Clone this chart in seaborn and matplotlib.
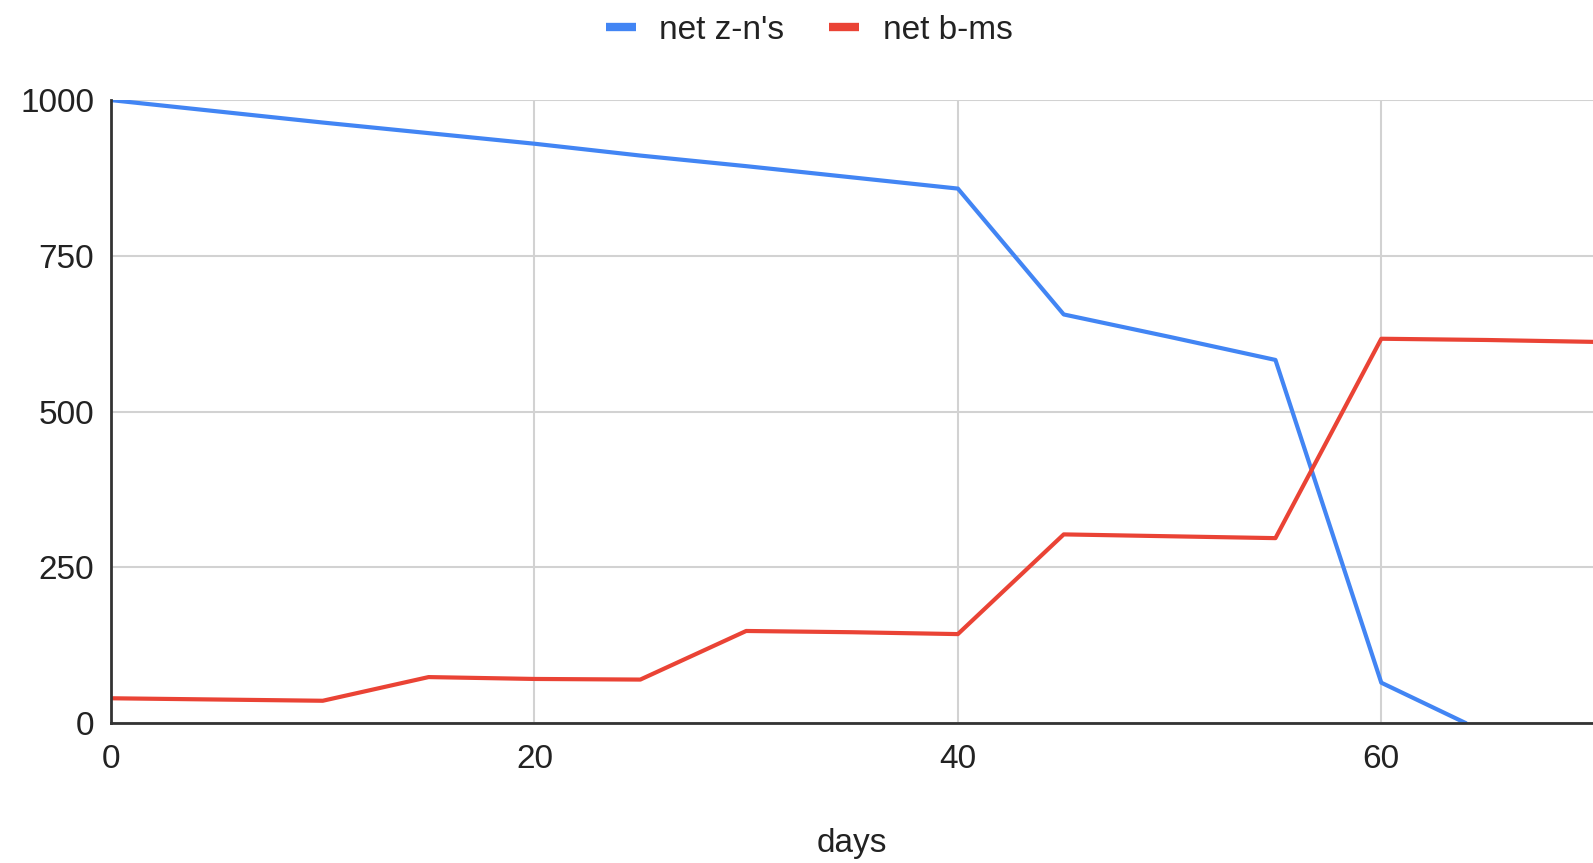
import matplotlib
matplotlib.use("Agg")
import matplotlib.pyplot as plt
from matplotlib.lines import Line2D
import seaborn as sns
import pandas as pd

# series data
days_zn = [0, 5, 10, 15, 20, 25, 30, 35, 40, 45, 50, 55, 60, 64]
net_zn = [1000, 982, 964, 947, 930, 911, 894, 876, 858, 656, 620, 583, 65, 0]

days_bm = [0, 5, 10, 15, 20, 25, 30, 35, 40, 45, 50, 55, 60, 65, 70]
net_bm = [40, 38, 36, 74, 71, 70, 148, 146, 143, 303, 300, 297, 617, 615, 612]

series_names = ["net z-n's", "net b-ms"]
series_colors = ["#4285F4", "#EA4335"]
x_ticks = [0, 20, 40, 60]
y_ticks = [0, 250, 500, 750, 1000]

df = pd.concat([
    pd.DataFrame({"days": days_zn, "value": net_zn, "series": series_names[0]}),
    pd.DataFrame({"days": days_bm, "value": net_bm, "series": series_names[1]}),
], ignore_index=True)

sns.set_theme(style="white")
plt.rcParams["font.family"] = ["Liberation Sans", "DejaVu Sans"]

fig = plt.figure(figsize=(15.93, 8.63), dpi=100)
ax = fig.add_axes([0.0697, 0.162, 1 - 0.0697, 0.884 - 0.162])

sns.lineplot(data=df, x="days", y="value", hue="series",
             palette=dict(zip(series_names, series_colors)),
             linewidth=3, legend=False, ax=ax, zorder=3)

ax.set_xlim(0, 70)
ax.set_ylim(0, 1000)
ax.set_xticks(x_ticks)
ax.set_yticks(y_ticks)
ax.set_xticklabels([str(t) for t in x_ticks])
ax.set_yticklabels([str(t) for t in y_ticks])
ax.grid(True, color="#d2d2d2", linewidth=1.5, zorder=0)
ax.set_axisbelow(True)

for s in ["top", "right"]:
    ax.spines[s].set_visible(False)
for s in ["left", "bottom"]:
    ax.spines[s].set_color("#333333")
    ax.spines[s].set_linewidth(2)
    ax.spines[s].set_zorder(4)

ax.tick_params(axis="both", length=0, labelsize=24, colors="#222222")
ax.tick_params(axis="y", pad=12)
ax.tick_params(axis="x", pad=15)

ax.set_xlabel("days", fontsize=24, color="#222222", labelpad=38)
ax.set_ylabel("")

handles = [Line2D([0], [0], color=c, linewidth=6, solid_capstyle="butt")
           for c in series_colors]
fig.legend(handles, series_names, loc="center", bbox_to_anchor=(0.508, 0.965),
           ncol=2, frameon=False, fontsize=24, handlelength=0.9,
           handletextpad=0.7, columnspacing=1.35, labelcolor="#222222")

fig.savefig("out.png", dpi=100)
